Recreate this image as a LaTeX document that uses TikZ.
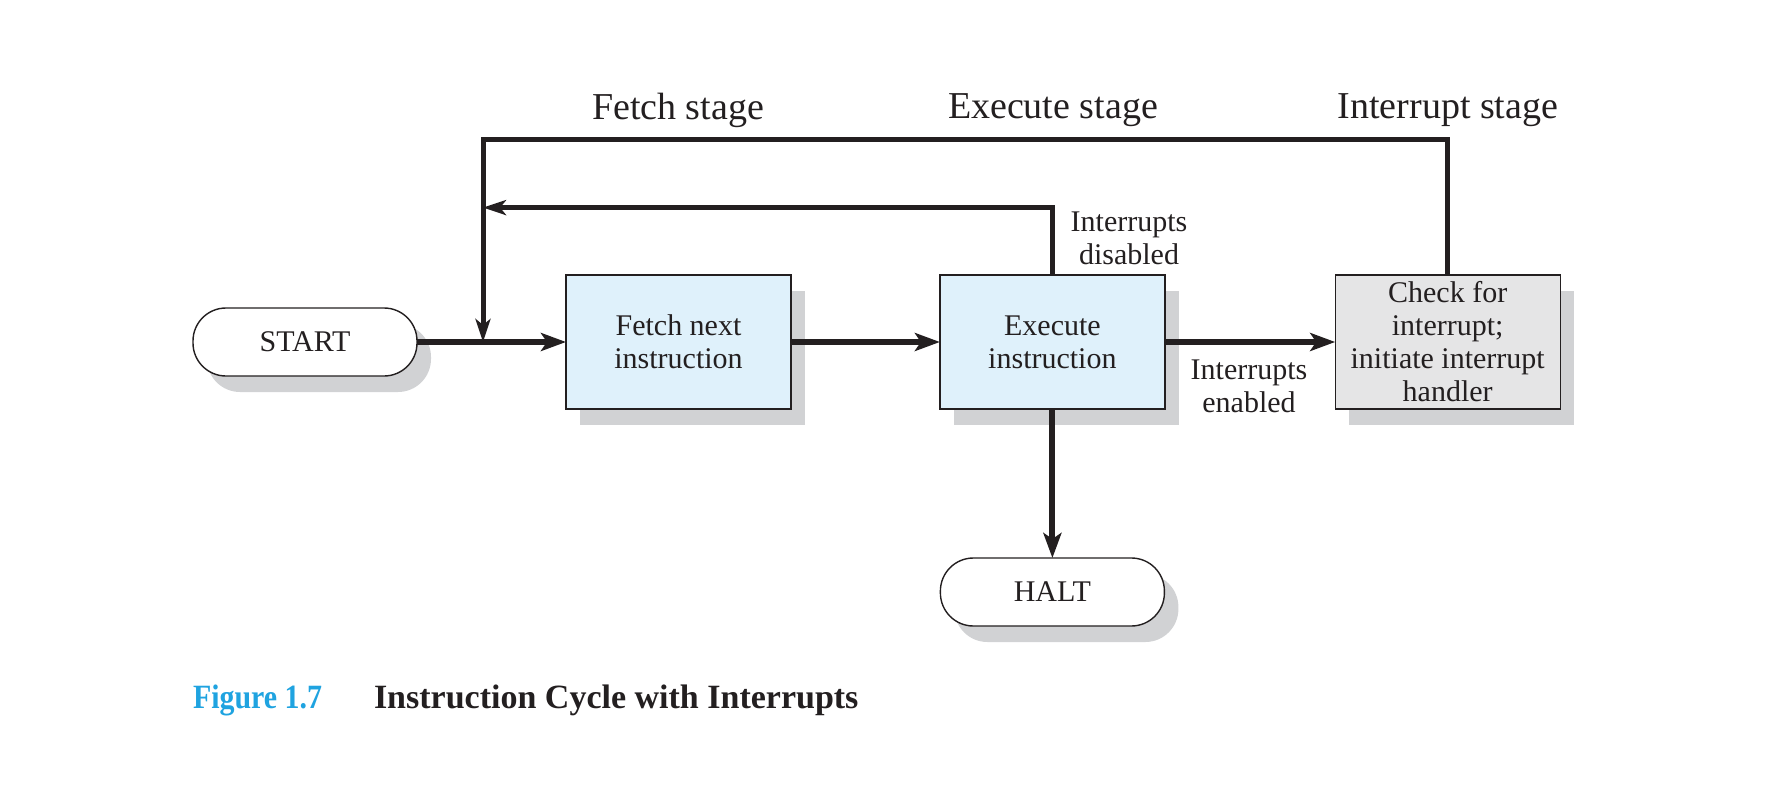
\documentclass[tikz,border=0pt]{standalone}
\usepackage{fontspec}
\setmainfont{Liberation Serif}
\usetikzlibrary{arrows.meta,shadows}
\definecolor{boxblue}{HTML}{DFF1FB}
\definecolor{boxgray}{HTML}{E5E5E6}
\definecolor{shadowgray}{HTML}{D1D2D4}
\definecolor{figcyan}{HTML}{1FA3E0}
\definecolor{ink}{HTML}{231F20}
\begin{document}
\begin{tikzpicture}[x=0.5pt,y=-0.5pt,
  every node/.style={inner sep=0pt, outer sep=0pt, text=ink},
  boxtext/.style={font=\fontsize{15}{16.5}\selectfont, align=center},
  shadowed/.style={general shadow={fill=shadowgray, shadow xshift=7pt, shadow yshift=-8pt}},
  procbox/.style={draw=ink, line width=0.7pt, minimum width=112.5pt, minimum height=67pt, boxtext, shadowed},
  terminal/.style={draw=ink, line width=0.7pt, fill=white, rounded corners=16.5pt, minimum width=112pt, minimum height=34pt, boxtext, shadowed},
  flow/.style={draw=ink, line width=3pt, -{Stealth[length=12.5pt,width=9pt,inset=3pt]}},
  loopline/.style={draw=ink, line width=2.5pt},
  looparrow/.style={loopline, -{Stealth[length=11.5pt,width=7.5pt,inset=3pt]}},
  stage/.style={font=\fontsize{19}{22}\selectfont},
  lab/.style={font=\fontsize{15}{16.5}\selectfont, align=center}
]
\useasboundingbox (0,0) rectangle (1779,787);
\node[terminal] (start) at (305,342) {START};
\node[procbox, fill=boxblue] (fetch) at (678.5,342) {Fetch next\\instruction};
\node[procbox, fill=boxblue] (exec) at (1052.4,342) {Execute\\instruction};
\node[procbox, fill=boxgray] (check) at (1447.7,342) {Check for\\interrupt;\\initiate interrupt\\handler};
\node[terminal] (halt) at (1052.4,592) {HALT};

\node[stage] (fst) at (678,110) {Fetch stage};
\node[stage] (est) at (1053,110) {Execute stage};
\node[stage] (ist) at (1448,110) {Interrupt stage};

\node[lab] (dis) at (1129,238) {Interrupts\\disabled};
\node[lab] (en) at (1249,386) {Interrupts\\enabled};

\coordinate (join) at (483,342);
\coordinate (tl) at (483,139.6);
\coordinate (tr) at (check.north |- tl);
\coordinate (il) at (483,207.6);

\draw[flow] (start.east) -- (fetch.west);
\draw[flow] (fetch.east) -- (exec.west);
\draw[flow] (exec.east) -- (check.west);
\draw[flow] (exec.south) -- (halt.north);
\draw[looparrow] (check.north) -- (tr) -- (tl) -- (join);
\draw[looparrow] (exec.north) |- (il);

\node[anchor=base west, font=\fontsize{17}{20}\selectfont\bfseries, text=figcyan, xscale=0.88, transform shape] (fig) at (193,708) {Figure 1.7};
\node[anchor=base west, font=\fontsize{17}{20}\selectfont\bfseries] (cap) at (374,708) {Instruction Cycle with Interrupts};
\end{tikzpicture}
\end{document}
